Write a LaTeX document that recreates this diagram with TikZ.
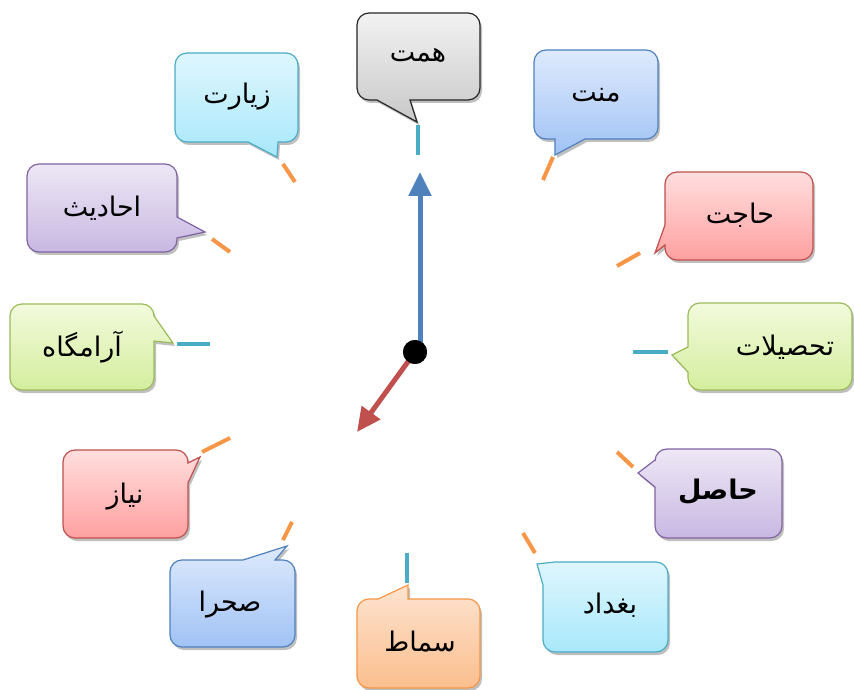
\documentclass[tikz,border=0pt]{standalone}
\usepackage{fontspec}
\usetikzlibrary{arrows.meta,shadows}
\newfontfamily\arabicfont[Script=Arabic]{DejaVu Sans}
\TeXXeTstate=1
\definecolor{cyanT}{HTML}{4BACC6}
\definecolor{orangeT}{HTML}{F79646}
\definecolor{handB}{HTML}{4F81BD}
\definecolor{handR}{HTML}{C0504D}
\tikzset{
 bub/.style={line width=1.2pt, drop shadow={shadow xshift=2pt,shadow yshift=-3pt,opacity=0.25,fill=black}},
 grayb/.style={bub,draw=black!85,top color={rgb,255:red,242;green,242;blue,242},bottom color={rgb,255:red,200;green,200;blue,200}},
 blueb/.style={bub,draw=handB,top color={rgb,255:red,222;green,234;blue,252},bottom color={rgb,255:red,160;green,194;blue,245}},
 redb/.style={bub,draw=handR,top color={rgb,255:red,255;green,222;blue,222},bottom color={rgb,255:red,255;green,160;blue,160}},
 greenb/.style={bub,draw={rgb,255:red,155;green,187;blue,89},top color={rgb,255:red,242;green,250;blue,220},bottom color={rgb,255:red,212;green,238;blue,158}},
 purpleb/.style={bub,draw={rgb,255:red,128;green,100;blue,162},top color={rgb,255:red,237;green,231;blue,245},bottom color={rgb,255:red,200;green,184;blue,226}},
 cyanb/.style={bub,draw=cyanT,top color={rgb,255:red,222;green,246;blue,253},bottom color={rgb,255:red,168;green,232;blue,251}},
 orangeb/.style={bub,draw=orangeT,top color={rgb,255:red,253;green,228;blue,208},bottom color={rgb,255:red,251;green,190;blue,142}},
 lbl/.style={font=\arabicfont\fontsize{27}{32}\selectfont, inner sep=0pt},
 tickc/.style={draw=cyanT,line width=4.5pt},
 ticko/.style={draw=orangeT,line width=4pt},
 hand/.style={line width=5pt,-{Triangle[length=24pt,width=22pt]}},
}
% style, L, B, R, T, bottom insert, right insert, top insert, left insert
\newcommand\bubble[9]{%
 \path[#1] (#2+12,#3) #6 -- (#4-12,#3) arc[start angle=-90,end angle=0,radius=12pt]
  -- (#4,#3+12) #7 -- (#4,#5-12) arc[start angle=0,end angle=90,radius=12pt]
  -- (#4-12,#5) #8 -- (#2+12,#5) arc[start angle=90,end angle=180,radius=12pt]
  -- (#2,#5-12) #9 -- (#2,#3+12) arc[start angle=180,end angle=270,radius=12pt] -- cycle;}
\begin{document}
\begin{tikzpicture}[x=1pt,y=1pt]
\useasboundingbox[fill=white] (0,0) rectangle (854,689);
% ticks
\draw[tickc] (418,564) -- (418,534);
\draw[ticko] (553,532) -- (543,509);
\draw[ticko] (640,436) -- (617,423);
\draw[tickc] (633,337) -- (668,337);
\draw[ticko] (617,237) -- (633,222);
\draw[ticko] (523,156) -- (535,136);
\draw[tickc] (407,136) -- (407,106);
\draw[ticko] (292,167) -- (283,149);
\draw[ticko] (202,237) -- (230,251);
\draw[tickc] (177,345) -- (210,345);
\draw[ticko] (212,450) -- (230,437);
\draw[ticko] (283,525) -- (295,507);
% bubbles
\bubble{grayb}{357}{589}{480}{676}{-- (377,589) -- (417,567) -- (410,589)}{}{}{}
\bubble{blueb}{534}{550}{658}{639}{-- (555,550) -- (555,534) -- (585,550)}{}{}{}
\bubble{redb}{665}{429}{813}{517}{}{}{}{-- (665,464) -- (655,436) -- (665,444)}
\bubble{greenb}{688}{299}{852}{386}{}{}{}{-- (688,342) -- (672,334) -- (688,317)}
\bubble{purpleb}{655}{151}{782}{240}{}{}{}{-- (655,229) -- (638,216) -- (655,202)}
\path[cyanb] (555,37) -- (656,37) arc[start angle=-90,end angle=0,radius=12pt]
  -- (668,115) arc[start angle=0,end angle=90,radius=12pt]
  -- (555,127) -- (537,125) -- (543,104) -- (543,49) arc[start angle=180,end angle=270,radius=12pt] -- cycle;
\bubble{orangeb}{357}{1}{480}{90}{}{}{-- (408,90) -- (408,104) -- (378,90)}{}
\bubble{blueb}{170}{42}{295}{129}{}{}{-- (275,129) -- (287,143) -- (243,129)}{}
\bubble{redb}{63}{151}{188}{239}{}{-- (188,206) -- (200,232) -- (188,226)}{}{}
\bubble{greenb}{10}{299}{154}{385}{}{-- (154,348) -- (173,346) -- (154,373)}{}{}
\bubble{purpleb}{27}{437}{177}{525}{}{-- (177,451) -- (205,457) -- (177,472)}{}{}
\bubble{cyanb}{175}{547}{298}{636}{-- (248,547) -- (277,532) -- (278,547)}{}{}{}
% labels
\node[lbl] (t12) at (418,634) {\beginR همت\endR};
\node[lbl] (t1) at (596,594) {\beginR منت\endR};
\node[lbl] (t2) at (740,474) {\beginR حاجت\endR};
\node[lbl] (t3) at (785,342) {\beginR تحصیلات\endR};
\node[lbl,font=\arabicfont\bfseries\fontsize{27}{32}\selectfont] (t4) at (718,197) {\beginR حاصل\endR};
\node[lbl] (t5) at (610,84) {\beginR بغداد\endR};
\node[lbl] (t6) at (420,47) {\beginR سماط\endR};
\node[lbl] (t7) at (230,84) {\beginR صحرا\endR};
\node[lbl] (t8) at (125,192) {\beginR نیاز\endR};
\node[lbl] (t9) at (82,342) {\beginR آرامگاه\endR};
\node[lbl] (t10) at (102,481) {\beginR احادیث\endR};
\node[lbl] (t11) at (237,592) {\beginR زیارت\endR};
% hands
\coordinate (mtip) at (420,517);
\coordinate (htip) at (357,257);
\node[circle,fill=black,minimum size=24pt,inner sep=0pt] (c) at (415,337) {};
\draw[hand,handB] (420,340) -- (mtip);
\draw[hand,handR] (c.center) -- (htip);
\node[circle,fill=black,minimum size=24pt,inner sep=0pt] at (c.center) {};
\end{tikzpicture}
\end{document}
